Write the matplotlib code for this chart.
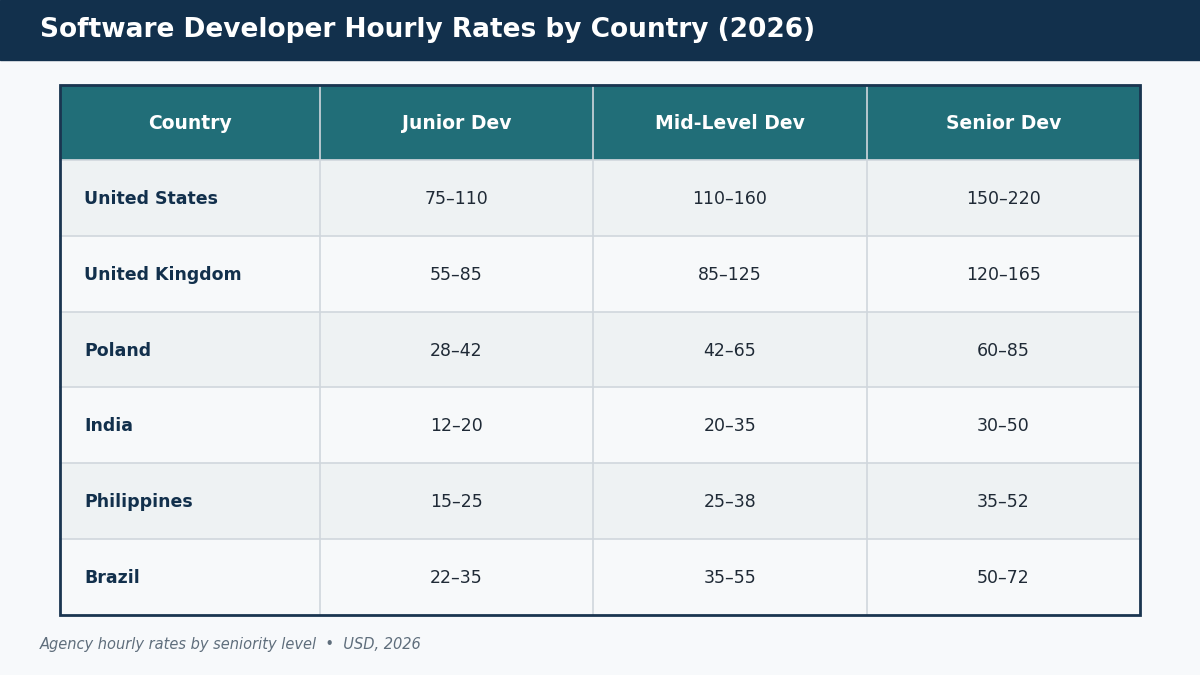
import matplotlib
matplotlib.use("Agg")
import matplotlib.pyplot as plt
from matplotlib.patches import Rectangle

title = "Software Developer Hourly Rates by Country (2026)"
columns = ["Country", "Junior Dev", "Mid-Level Dev", "Senior Dev"]
countries = ["United States", "United Kingdom", "Poland", "India", "Philippines", "Brazil"]
junior = ["75–110", "55–85", "28–42", "12–20", "15–25", "22–35"]
mid = ["110–160", "85–125", "42–65", "20–35", "25–38", "35–55"]
senior = ["150–220", "120–165", "60–85", "30–50", "35–52", "50–72"]
footnote = "Agency hourly rates by seniority level  •  USD, 2026"

plt.rcParams['font.family'] = ['DejaVu Sans']
fig = plt.figure(figsize=(12, 6.75), dpi=100)
fig.patch.set_facecolor("#F7F9FB")
ax = fig.add_axes([0, 0, 1, 1])
ax.set_xlim(0, 1200); ax.set_ylim(675, 0); ax.axis("off")

ax.add_patch(Rectangle((0, 0), 1200, 60, color="#12304C", zorder=1))
ax.text(40, 30, title, color="white", fontsize=19, fontweight="bold", va="center", ha="left")

xs = [60, 320, 593, 867, 1140]
top, hh, rh = 85, 75, 75.83
ax.add_patch(Rectangle((60, top), 1080, hh, color="#216E78", zorder=1))
for i, c in enumerate(columns):
    ax.text((xs[i] + xs[i+1]) / 2, top + hh / 2 + 1, c, color="white", fontsize=13.5,
            fontweight="bold", ha="center", va="center")
rows = list(zip(countries, junior, mid, senior))
for r, row in enumerate(rows):
    y0 = top + hh + r * rh
    ax.add_patch(Rectangle((60, y0), 1080, rh, color="#EEF2F3" if r % 2 == 0 else "#F7F9FA", zorder=1))
    if r > 0:
        ax.plot([60, 1140], [y0, y0], color="#D0D7DD", lw=1.2, zorder=2)
    for i, v in enumerate(row):
        if i == 0:
            ax.text(84, y0 + rh / 2 + 1, v, color="#12304C", fontsize=12.5, fontweight="bold",
                    ha="left", va="center")
        else:
            ax.text((xs[i] + xs[i+1]) / 2, y0 + rh / 2 + 1, v, color="#1F2A36", fontsize=12.5,
                    ha="center", va="center")
bottom = top + hh + len(rows) * rh
ax.plot([60, 1140], [top + hh] * 2, color="#D0D7DD", lw=1.2, zorder=2)
for x in xs[1:-1]:
    ax.plot([x, x], [top, bottom], color="#D0D7DD", lw=1.2, zorder=2)
ax.add_patch(Rectangle((60, top), 1080, bottom - top, fill=False, ec="#1A3550", lw=2, zorder=3))

ax.text(40, 644, footnote, color="#5F6E7C", fontsize=10.5, style="italic", ha="left", va="center")
fig.savefig("out.png", dpi=100, facecolor=fig.get_facecolor())
